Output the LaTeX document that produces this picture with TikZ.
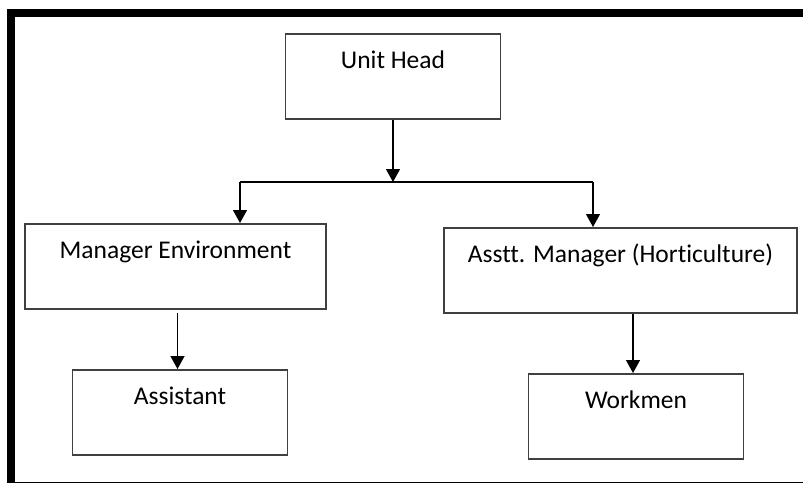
\documentclass[tikz,border=0pt]{standalone}
\usepackage{fontspec}
\setmainfont{Carlito}[Ligatures=NoCommon]
\usepackage{tikz}
\usetikzlibrary{positioning, arrows.meta}
\tikzstyle{arrow} = [line width=1.3pt,-{Triangle[length=13pt,width=14pt]}]

\begin{document}
\begin{tikzpicture}[
		x=1pt, y=-1pt,
		box/.style={draw=black!75, line width=1.6pt, inner xsep=0pt, inner ysep=0pt, anchor=north, text height=35pt, text depth=50pt, align=center, font=\fontsize{25.5}{30}\selectfont},
		small/.style={box, minimum width=215pt},
		wide/.style={box, minimum width=301pt},
		wider/.style={box, minimum width=353pt}
		]
		
		\useasboundingbox (0,0) rectangle (803,482);
		\clip (0,0) rectangle (803,482);
		\draw[line width=8pt] (11,13) rectangle (815,486);
		
		\node (unithead) at (393,33) [small] {Unit Head};
		\node (mgrEnv) at (175.5,223) [wide] {Manager Environment};
		\node (asstMgr) at (620.5,227) [wider] {Asstt. Manager (Horticulture)};
		\node (assistant) at (180,369) [small] {Assistant};
		\node (workmen) at (636,373) [small] {Workmen};
		
		\coordinate (split) at (393,182);
		\coordinate (splitL) at (240,182);
		\coordinate (splitR) at (593,182);
		
		\draw[arrow] (unithead) -- (split);
		\draw[line width=1.3pt] (splitL) -- (splitR);
		\draw[arrow] (splitL) -- (splitL |- mgrEnv.north);
		\draw[arrow] (splitR) -- (splitR |- asstMgr.north);
		\draw[arrow, shorten <=3pt] ([xshift=2pt]mgrEnv.south) -- ([xshift=2pt]mgrEnv.south |- assistant.north);
		\draw[arrow] ([xshift=-3pt]workmen.north |- asstMgr.south) -- ([xshift=-3pt]workmen.north);
	\end{tikzpicture}
\end{document}
